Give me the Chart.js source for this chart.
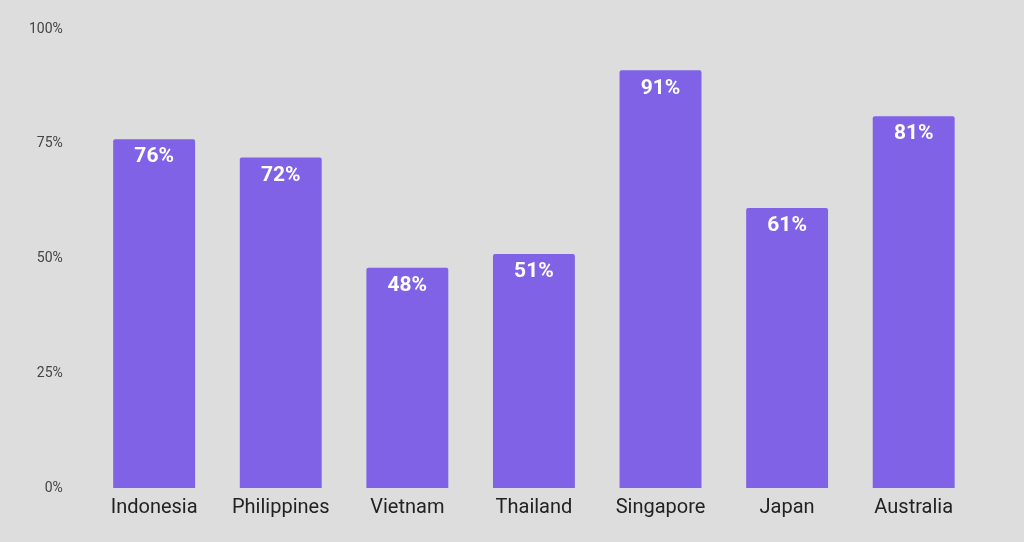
<!DOCTYPE html>
<html>
<head>
<meta charset="utf-8">
<script src="https://cdn.jsdelivr.net/npm/chart.js@4/dist/chart.umd.min.js"></script>
<style>
  html, body { margin: 0; padding: 0; background: #dddddd; }
  #wrap { width: 1024px; height: 542px; position: relative; }
</style>
</head>
<body>
<div id="wrap"><canvas id="c" width="1024" height="542"></canvas></div>
<script>
const categories = ["Indonesia", "Philippines", "Vietnam", "Thailand", "Singapore", "Japan", "Australia"];
const values = [76, 72, 48, 51, 91, 61, 81];
const yTicks = [0, 25, 50, 75, 100];

const barLabels = {
  id: 'barLabels',
  afterDatasetsDraw(chart) {
    const ctx = chart.ctx;
    const meta = chart.getDatasetMeta(0);
    ctx.save();
    ctx.fillStyle = '#ffffff';
    ctx.font = 'bold 21px Roboto, "Open Sans", sans-serif';
    ctx.textAlign = 'center';
    ctx.textBaseline = 'middle';
    meta.data.forEach((bar, i) => {
      ctx.fillText(values[i] + '%', bar.x, bar.y + 18);
    });
    ctx.restore();
  }
};

new Chart(document.getElementById('c'), {
  type: 'bar',
  data: {
    labels: categories,
    datasets: [{
      data: values,
      backgroundColor: '#7f62e5',
      borderRadius: 2,
      borderSkipped: 'bottom',
      categoryPercentage: 0.647,
      barPercentage: 1
    }]
  },
  options: {
    responsive: false,
    animation: false,
    devicePixelRatio: 1,
    layout: { padding: { top: 29, left: 1, right: 47, bottom: 14 } },
    plugins: { legend: { display: false }, tooltip: { enabled: false } },
    scales: {
      x: {
        grid: { display: false, drawTicks: false },
        border: { display: false },
        ticks: { color: '#222222', font: { family: 'Roboto', size: 20 }, padding: 8 }
      },
      y: {
        min: 0, max: 100,
        afterBuildTicks(axis) { axis.ticks = yTicks.map(v => ({ value: v })); },
        afterFit(axis) { axis.paddingTop = 8; axis.paddingBottom = 8; },
        grid: { display: false, drawTicks: false },
        border: { display: false },
        ticks: { color: '#444444', font: { family: 'Roboto', size: 14 }, padding: 28,
                 callback: v => v + '%' }
      }
    }
  },
  plugins: [barLabels]
});
</script>
</body>
</html>
